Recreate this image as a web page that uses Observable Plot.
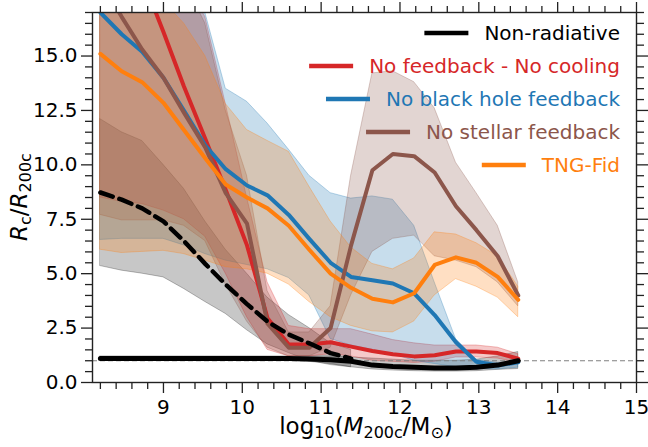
<!DOCTYPE html>
<html><head><meta charset="utf-8">
<script src="https://cdn.jsdelivr.net/npm/d3@7"></script>
<script src="https://cdn.jsdelivr.net/npm/@observablehq/plot@0.6"></script>
<style>body{margin:0;background:#fff;} svg{font-family:"DejaVu Sans";}</style>
</head><body><div id="chart"></div><script>
// ---- data ----
const logM = [8.2, 8.47, 8.73, 9.0, 9.26, 9.53, 9.79, 10.06, 10.32, 10.59, 10.85, 11.12, 11.38, 11.65, 11.91, 12.18, 12.44, 12.71, 12.97, 13.24, 13.5];

const nonRad   = [1.1, 1.1, 1.1, 1.1, 1.1, 1.1, 1.1, 1.1, 1.1, 1.1, 1.08, 1.04, 0.98, 0.8, 0.74, 0.7, 0.67, 0.67, 0.7, 0.8, 1.0];
const nonRadLo = [1.0, 1.0, 1.0, 1.0, 1.0, 1.0, 1.0, 1.0, 1.0, 1.0, 0.95, 0.85, 0.7, 0.6, 0.55, 0.52, 0.5, 0.5, 0.52, 0.58, 0.62];
const nonRadHi = [1.2, 1.2, 1.2, 1.2, 1.2, 1.2, 1.2, 1.2, 1.2, 1.2, 1.2, 1.2, 1.15, 1.1, 1.05, 1.0, 1.0, 1.0, 1.05, 1.2, 1.4];

const dashedBlack   = [8.73, 8.4, 8.0, 7.4, 6.5, 5.45, 4.5, 3.6, 2.8, 2.2, 1.8, 1.35, 1.1];
const dashedBlackLo = [5.35, 5.14, 5.0, 4.83, 4.3, 3.7, 3.15, 2.4, 1.75, 1.35, 1.0, 0.8, 0.7];
const dashedBlackHi = [12.1, 11.5, 11.1, 10.0, 8.9, 7.4, 6.1, 5.0, 3.9, 3.1, 2.5, 1.8, 1.5];

const noFbNoCool   = [24, 21.2, 18.6, 16.1, 13.6, 11.2, 8.85, 6.3, 2.95, 1.75, 1.75, 1.85, 1.65, 1.45, 1.3, 1.2, 1.25, 1.42, 1.42, 1.35, 1.1];
const noFbNoCoolLo = [8.5, 8.3, 8.2, 7.9, 7.5, 6.7, 5.0, 3.0, 1.5, 1.2, 1.2, 1.3, 1.2, 1.0, 0.95, 0.9, 0.95, 1.15, 1.15, 1.1, 0.9];
const noFbNoCoolHi = [26, 24, 22, 20, 18.5, 16.8, 12.8, 8.5, 4.6, 2.6, 2.45, 2.45, 2.45, 2.2, 1.95, 1.8, 1.7, 1.7, 1.7, 1.6, 1.3];

const noBH   = [17.0, 16.0, 15.2, 14.0, 12.5, 10.9, 9.8, 9.05, 8.6, 7.7, 6.6, 5.5, 4.85, 4.7, 4.55, 4.1, 3.1, 1.85, 0.95, 0.78, 0.93];
const noBHLo = [6.55, 6.6, 6.6, 6.6, 6.3, 5.9, 5.6, 5.4, 5.2, 4.8, 4.0, 2.0, 1.7, 1.5, 1.3, 1.0, 0.85, 0.7, 0.62, 0.6, 0.68];
const noBHHi = [22, 21, 20, 19, 18, 17, 13.5, 12.9, 11.9, 10.7, 9.5, 8.7, 8.45, 8.55, 8.4, 7.2, 4.6, 2.0, 1.05, 0.9, 0.95];

const noStellar   = [18.5, 16.8, 15.3, 14.0, 12.4, 10.8, 8.7, 7.3, 2.7, 1.6, 1.6, 2.5, 6.3, 9.75, 10.5, 10.4, 9.65, 8.1, 7.0, 5.8, 4.0];
const noStellarLo = [7.7, 7.45, 7.45, 7.45, 7.2, 6.5, 4.5, 2.8, 1.6, 1.2, 1.2, 1.6, 4.0, 6.0, 6.6, 6.75, 5.8, 5.6, 5.3, 4.6, 3.5];
const noStellarHi = [26, 24, 22, 20, 18.5, 16.5, 12.5, 9.5, 4.2, 2.3, 2.3, 3.5, 9.5, 14.2, 14.3, 13.8, 12.6, 10.1, 8.7, 7.2, 4.6];

const tngFid   = [15.1, 14.3, 13.8, 12.85, 11.6, 10.3, 9.1, 8.5, 8.0, 7.2, 6.1, 5.0, 4.35, 3.85, 3.68, 4.1, 5.4, 5.75, 5.5, 4.85, 3.8];
const tngFidLo = [6.1, 5.95, 6.0, 6.05, 5.9, 5.6, 5.3, 5.2, 5.0, 4.5, 3.7, 3.0, 2.6, 2.35, 2.3, 2.8, 4.0, 4.75, 4.4, 3.9, 3.0];
const tngFidHi = [20, 19, 18.5, 17.5, 16.5, 15, 12.8, 11.6, 11.1, 10.6, 9.0, 7.4, 6.2, 5.45, 5.2, 5.7, 6.9, 6.8, 6.4, 5.8, 4.4];

const legendLabels = ["Non-radiative", "No feedback - No cooling", "No black hole feedback", "No stellar feedback", "TNG-Fid"];
const colors = ["#000000", "#d62728", "#1f77b4", "#8c564b", "#ff7f0e"];

const xMajor = [9, 10, 11, 12, 13, 14, 15];
const xMinor = [8.2, 8.4, 8.6, 8.8, 9.2, 9.4, 9.6, 9.8, 10.2, 10.4, 10.6, 10.8, 11.2, 11.4, 11.6, 11.8, 12.2, 12.4, 12.6, 12.8, 13.2, 13.4, 13.6, 13.8, 14.2, 14.4, 14.6, 14.8];
const yMajor = [0, 2.5, 5, 7.5, 10, 12.5, 15];
const yMinor = [0.5, 1, 1.5, 2, 3, 3.5, 4, 4.5, 5.5, 6, 6.5, 7, 8, 8.5, 9, 9.5, 10.5, 11, 11.5, 12, 13, 13.5, 14, 14.5, 15.5, 16, 16.5, 17];

// ---- build tables ----
function table(y, lo, hi) {
  return y.map((v, i) => ({x: logM[i], y: v, lo: lo[i], hi: hi[i]}));
}
const series = [
  {d: table(nonRad, nonRadLo, nonRadHi), c: colors[0]},
  {d: table(noFbNoCool, noFbNoCoolLo, noFbNoCoolHi), c: colors[1]},
  {d: table(noBH, noBHLo, noBHHi), c: colors[2]},
  {d: table(noStellar, noStellarLo, noStellarHi), c: colors[3]},
  {d: table(tngFid, tngFidLo, tngFidHi), c: colors[4]}
];
const dashed = table(dashedBlack, dashedBlackLo, dashedBlackHi);

const bandMarks = [];
bandMarks.push(Plot.areaY(dashed, {x: "x", y1: "lo", y2: "hi", fill: "#000", fillOpacity: 0.22, stroke: "#000", strokeOpacity: 0.25, strokeWidth: 1, clip: true}));
bandMarks.push(Plot.areaY(series[0].d, {x: "x", y1: "lo", y2: "hi", fill: "#000", fillOpacity: 0.22, stroke: "#000", strokeOpacity: 0.25, strokeWidth: 1, clip: true}));
for (const s of series.slice(1)) {
  bandMarks.push(Plot.areaY(s.d, {x: "x", y1: "lo", y2: "hi", fill: s.c, fillOpacity: 0.25, stroke: s.c, strokeOpacity: 0.3, strokeWidth: 1, clip: true}));
}
const lineMarks = [];
for (const s of series.slice(1)) {
  lineMarks.push(Plot.line(s.d, {x: "x", y: "y", stroke: s.c, strokeWidth: 4, clip: true}));
}
lineMarks.push(Plot.line(dashed, {x: "x", y: "y", stroke: "#000", strokeWidth: 4.5, strokeDasharray: "13,7", clip: true}));
lineMarks.push(Plot.line(series[0].d, {x: "x", y: "y", stroke: "#000", strokeWidth: 5, clip: true}));

const FS = 20;
const axisCommon = {label: null, stroke: "#222", strokeWidth: 1.3, fill: "#000", fontSize: FS};
const chart = Plot.plot({
  width: 648, height: 447,
  marginLeft: 92, marginRight: 12, marginTop: 12, marginBottom: 65,
  style: {fontFamily: "DejaVu Sans", background: "white"},
  x: {domain: [8.1, 15]},
  y: {domain: [0, 17]},
  marks: [
    ...bandMarks,
    Plot.ruleY([1], {stroke: "#808080", strokeWidth: 1.2, strokeDasharray: "5,3"}),
    ...lineMarks,
    Plot.frame({stroke: "#222", strokeWidth: 1.4}),
    Plot.axisX({...axisCommon, ticks: xMajor, anchor: "bottom", tickSize: 11, tickPadding: 6, tickFormat: d => String(d)}),
    Plot.axisX({...axisCommon, ticks: xMinor, anchor: "bottom", tickSize: 7, tickFormat: () => ""}),
    Plot.axisX({...axisCommon, ticks: xMajor, anchor: "top", tickSize: 11, tickFormat: () => ""}),
    Plot.axisX({...axisCommon, ticks: xMinor, anchor: "top", tickSize: 7, tickFormat: () => ""}),
    Plot.axisY({...axisCommon, ticks: yMajor, anchor: "left", tickSize: 11, tickPadding: 4, tickFormat: d3.format(".1f")}),
    Plot.axisY({...axisCommon, ticks: yMinor, anchor: "left", tickSize: 7, tickFormat: () => ""}),
    Plot.axisY({...axisCommon, ticks: yMajor, anchor: "right", tickSize: 11, tickFormat: () => ""}),
    Plot.axisY({...axisCommon, ticks: yMinor, anchor: "right", tickSize: 7, tickFormat: () => ""})
  ]
});
document.getElementById("chart").appendChild(chart);

// ---- axis titles and legend (svg text) ----
const svg = d3.select(chart);
const xl = svg.append("text").attr("x", 366).attr("y", 434).attr("text-anchor", "middle")
  .attr("font-size", 23).attr("fill", "#000");
xl.append("tspan").text("log");
xl.append("tspan").attr("font-size", 16).attr("dy", 4).text("10");
xl.append("tspan").attr("dy", -4).text("(");
xl.append("tspan").attr("font-style", "italic").text("M");
xl.append("tspan").attr("font-size", 16).attr("dy", 4).text("200c");
xl.append("tspan").attr("dy", -4).text("/M");
xl.append("tspan").attr("font-size", 16).attr("dy", 4).text("⊙");
xl.append("tspan").attr("dy", -4).text(")");

const yl = svg.append("text").attr("transform", "translate(27,197) rotate(-90)").attr("text-anchor", "middle")
  .attr("font-size", 23).attr("fill", "#000");
yl.append("tspan").attr("font-style", "italic").text("R");
yl.append("tspan").attr("font-size", 16).attr("dy", 4).text("c");
yl.append("tspan").attr("dy", -4).text("/");
yl.append("tspan").attr("font-style", "italic").text("R");
yl.append("tspan").attr("font-size", 16).attr("dy", 4).text("200c");

const leg = svg.append("g");
legendLabels.forEach((lab, i) => {
  const cy = 33 + i * 33;
  const t = leg.append("text").attr("x", 620).attr("y", cy + 7).attr("text-anchor", "end")
    .attr("font-size", FS).attr("fill", colors[i]).text(lab);
  const w = t.node().getComputedTextLength();
  const x1 = 620 - w - 16;
  leg.append("line").attr("x1", x1 - 44).attr("x2", x1).attr("y1", cy).attr("y2", cy)
    .attr("stroke", colors[i]).attr("stroke-width", 4.5);
});
</script></body></html>
